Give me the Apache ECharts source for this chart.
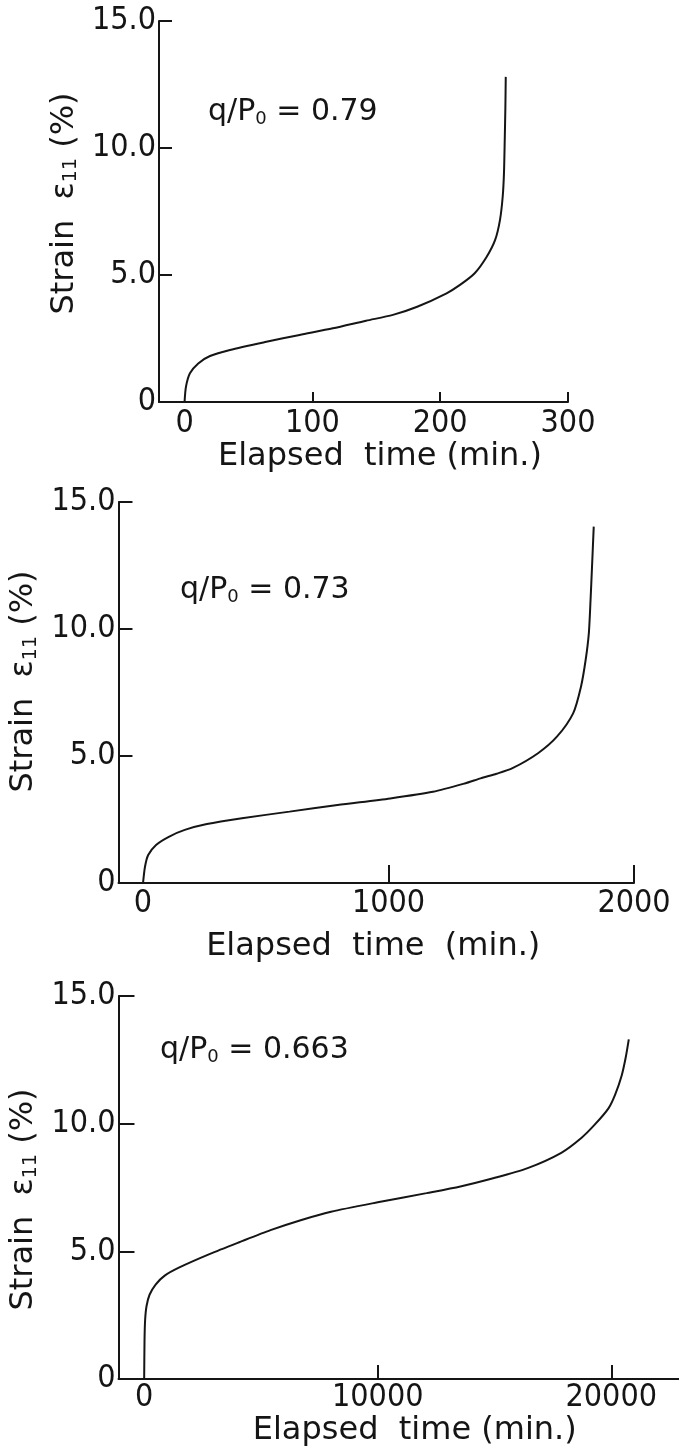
<!DOCTYPE html>
<html><head><meta charset="utf-8">
<script src="https://cdn.jsdelivr.net/npm/echarts@6/dist/echarts.min.js"></script>
<style>html,body{margin:0;padding:0;background:#fff}#c{width:679px;height:1449px}</style>
</head><body><div id="c"></div>
<script>
// ---- data ----
const time1   = [0, 1.1, 4.2, 10.7, 19.9, 35.5, 64, 90, 116, 142, 163, 182, 205, 215.5, 227, 236.4, 243, 246.8, 248.9, 249.9, 250.5, 251, 251.3];
const strain1 = [0, 0.6, 1.13, 1.52, 1.81, 2.05, 2.37, 2.64, 2.9, 3.2, 3.43, 3.75, 4.28, 4.61, 5.07, 5.72, 6.38, 7.17, 8.08, 9.0, 10.3, 11.6, 12.8];

const time2   = [0, 8, 21, 53, 105, 170, 260, 403, 597, 792, 1007, 1181, 1311, 1375, 1440, 1505, 1609, 1686, 1752, 1784, 1803, 1816, 1823, 1829, 1836];
const strain2 = [0, 0.64, 1.1, 1.5, 1.82, 2.09, 2.32, 2.55, 2.81, 3.07, 3.33, 3.59, 3.92, 4.12, 4.3, 4.52, 5.11, 5.76, 6.68, 7.73, 8.78, 9.83, 11.14, 12.45, 14.03];

const time3   = [0, 15, 40, 100, 230, 490, 880, 1530, 2820, 4110, 5410, 6700, 8000, 10000, 12090, 13540, 14980, 16420, 17860, 18730, 19300, 19880, 20170, 20450, 20620, 20750];
const strain3 = [0, 1.5, 2.3, 2.85, 3.3, 3.7, 4.05, 4.38, 4.9, 5.37, 5.83, 6.22, 6.55, 6.92, 7.28, 7.54, 7.87, 8.26, 8.86, 9.45, 9.97, 10.6, 11.15, 11.9, 12.6, 13.3];

const xLabels1 = [0, 100, 200, 300];
const xLabels2 = [0, 1000, 2000];
const xLabels3 = [0, 10000, 20000];
const yTicks = [0, 5, 10, 15];
const yTickLabels = ['0', '5.0', '10.0', '15.0'];
const ratioLabels = ['0.79', '0.73', '0.663'];

// ---- drawing ----
const INK = '#151515';
const NARROW = "'Liberation Sans Narrow', 'DejaVu Sans Condensed', sans-serif";
const SANS = "'DejaVu Sans', sans-serif";
const zip = (a, b) => a.map((v, i) => [v, b[i]]);

const grids = [
  {left: 159, top: 21,  width: 409, height: 381},
  {left: 94,  top: 502, width: 540, height: 381},
  {left: 93,  top: 996, width: 586, height: 383}
];

const xSpecs = [
  {min: -20,   max: 300,   labels: xLabels1, tickLen: 10, margin: 6, nameGap: 32, pad: [0, 0, 0, 33], name: 'Elapsed  time (min.)'},
  {min: -100,  max: 2000,  labels: xLabels2, tickLen: 18, margin: 5, nameGap: 48, pad: [0, 6, 0, 0],  name: 'Elapsed  time  (min.)'},
  {min: -1100, max: 22900, labels: xLabels3, tickLen: 14, margin: 3, nameGap: 36, pad: [0, 0, 0, 32], name: 'Elapsed  time (min.)'}
];
const ySpecs = [
  {nameGap: 57, pad: [0, 0, 0, 16], tickLen: 13},
  {nameGap: 42, pad: [0, 0, 0, 22], tickLen: 14},
  {nameGap: 46, pad: [0, 24, 0, 0], tickLen: 16}
];

const xAxes = xSpecs.map((s, i) => ({
  type: 'value', gridIndex: i, min: s.min, max: s.max,
  name: s.name, nameLocation: 'middle', nameGap: s.nameGap,
  nameTextStyle: {fontFamily: SANS, fontSize: 32, color: INK, padding: s.pad},
  axisLine: {onZero: false, lineStyle: {color: INK, width: 2}},
  axisTick: {show: true, inside: true, length: s.tickLen, customValues: s.labels.filter(v => v !== 0), lineStyle: {color: INK, width: 2}},
  axisLabel: {customValues: s.labels, margin: s.margin, fontFamily: NARROW, fontSize: 32, color: INK,
    formatter: v => String(v)},
  splitLine: {show: false}
}));

const yAxes = ySpecs.map((s, i) => ({
  type: 'value', gridIndex: i, min: 0, max: 15, interval: 5,
  name: 'Strain  ε{s|11} (%)', nameLocation: 'middle', nameGap: s.nameGap,
  nameTextStyle: {fontFamily: SANS, fontSize: 32, color: INK, padding: s.pad,
    rich: {s: {fontFamily: SANS, fontSize: 19, color: INK, padding: [14, 0, 0, 0]}}},
  axisLine: {onZero: false, lineStyle: {color: INK, width: 2}},
  axisTick: {show: true, inside: true, length: s.tickLen, lineStyle: {color: INK, width: 2}},
  axisLabel: {margin: 3, fontFamily: NARROW, fontSize: 32, color: INK,
    formatter: v => yTickLabels[yTicks.indexOf(v)] || ''},
  splitLine: {show: false}
}));

const dataSets = [zip(time1, strain1), zip(time2, strain2), zip(time3, strain3)];
const series = dataSets.map((d, i) => ({
  type: 'line', xAxisIndex: i, yAxisIndex: i, data: d,
  showSymbol: false, smooth: 0.25,
  lineStyle: {color: INK, width: 2}, silent: true
}));

const notePos = [[208, 112], [180, 590], [160, 1050]];
const graphic = notePos.map((p, i) => ({
  type: 'text', x: p[0], y: p[1],
  style: {
    text: 'q/P{s|0} = ' + ratioLabels[i],
    fontFamily: SANS, fontSize: 30, fill: INK, verticalAlign: 'middle',
    rich: {s: {fontFamily: SANS, fontSize: 18, fill: INK, padding: [14, 0, 0, 0]}}
  }
}));

const chart = echarts.init(document.getElementById('c'), null, {renderer: 'canvas'});
chart.setOption({
  animation: false,
  backgroundColor: '#ffffff',
  grid: grids,
  xAxis: xAxes,
  yAxis: yAxes,
  series: series,
  graphic: graphic
});
</script>
</body></html>
